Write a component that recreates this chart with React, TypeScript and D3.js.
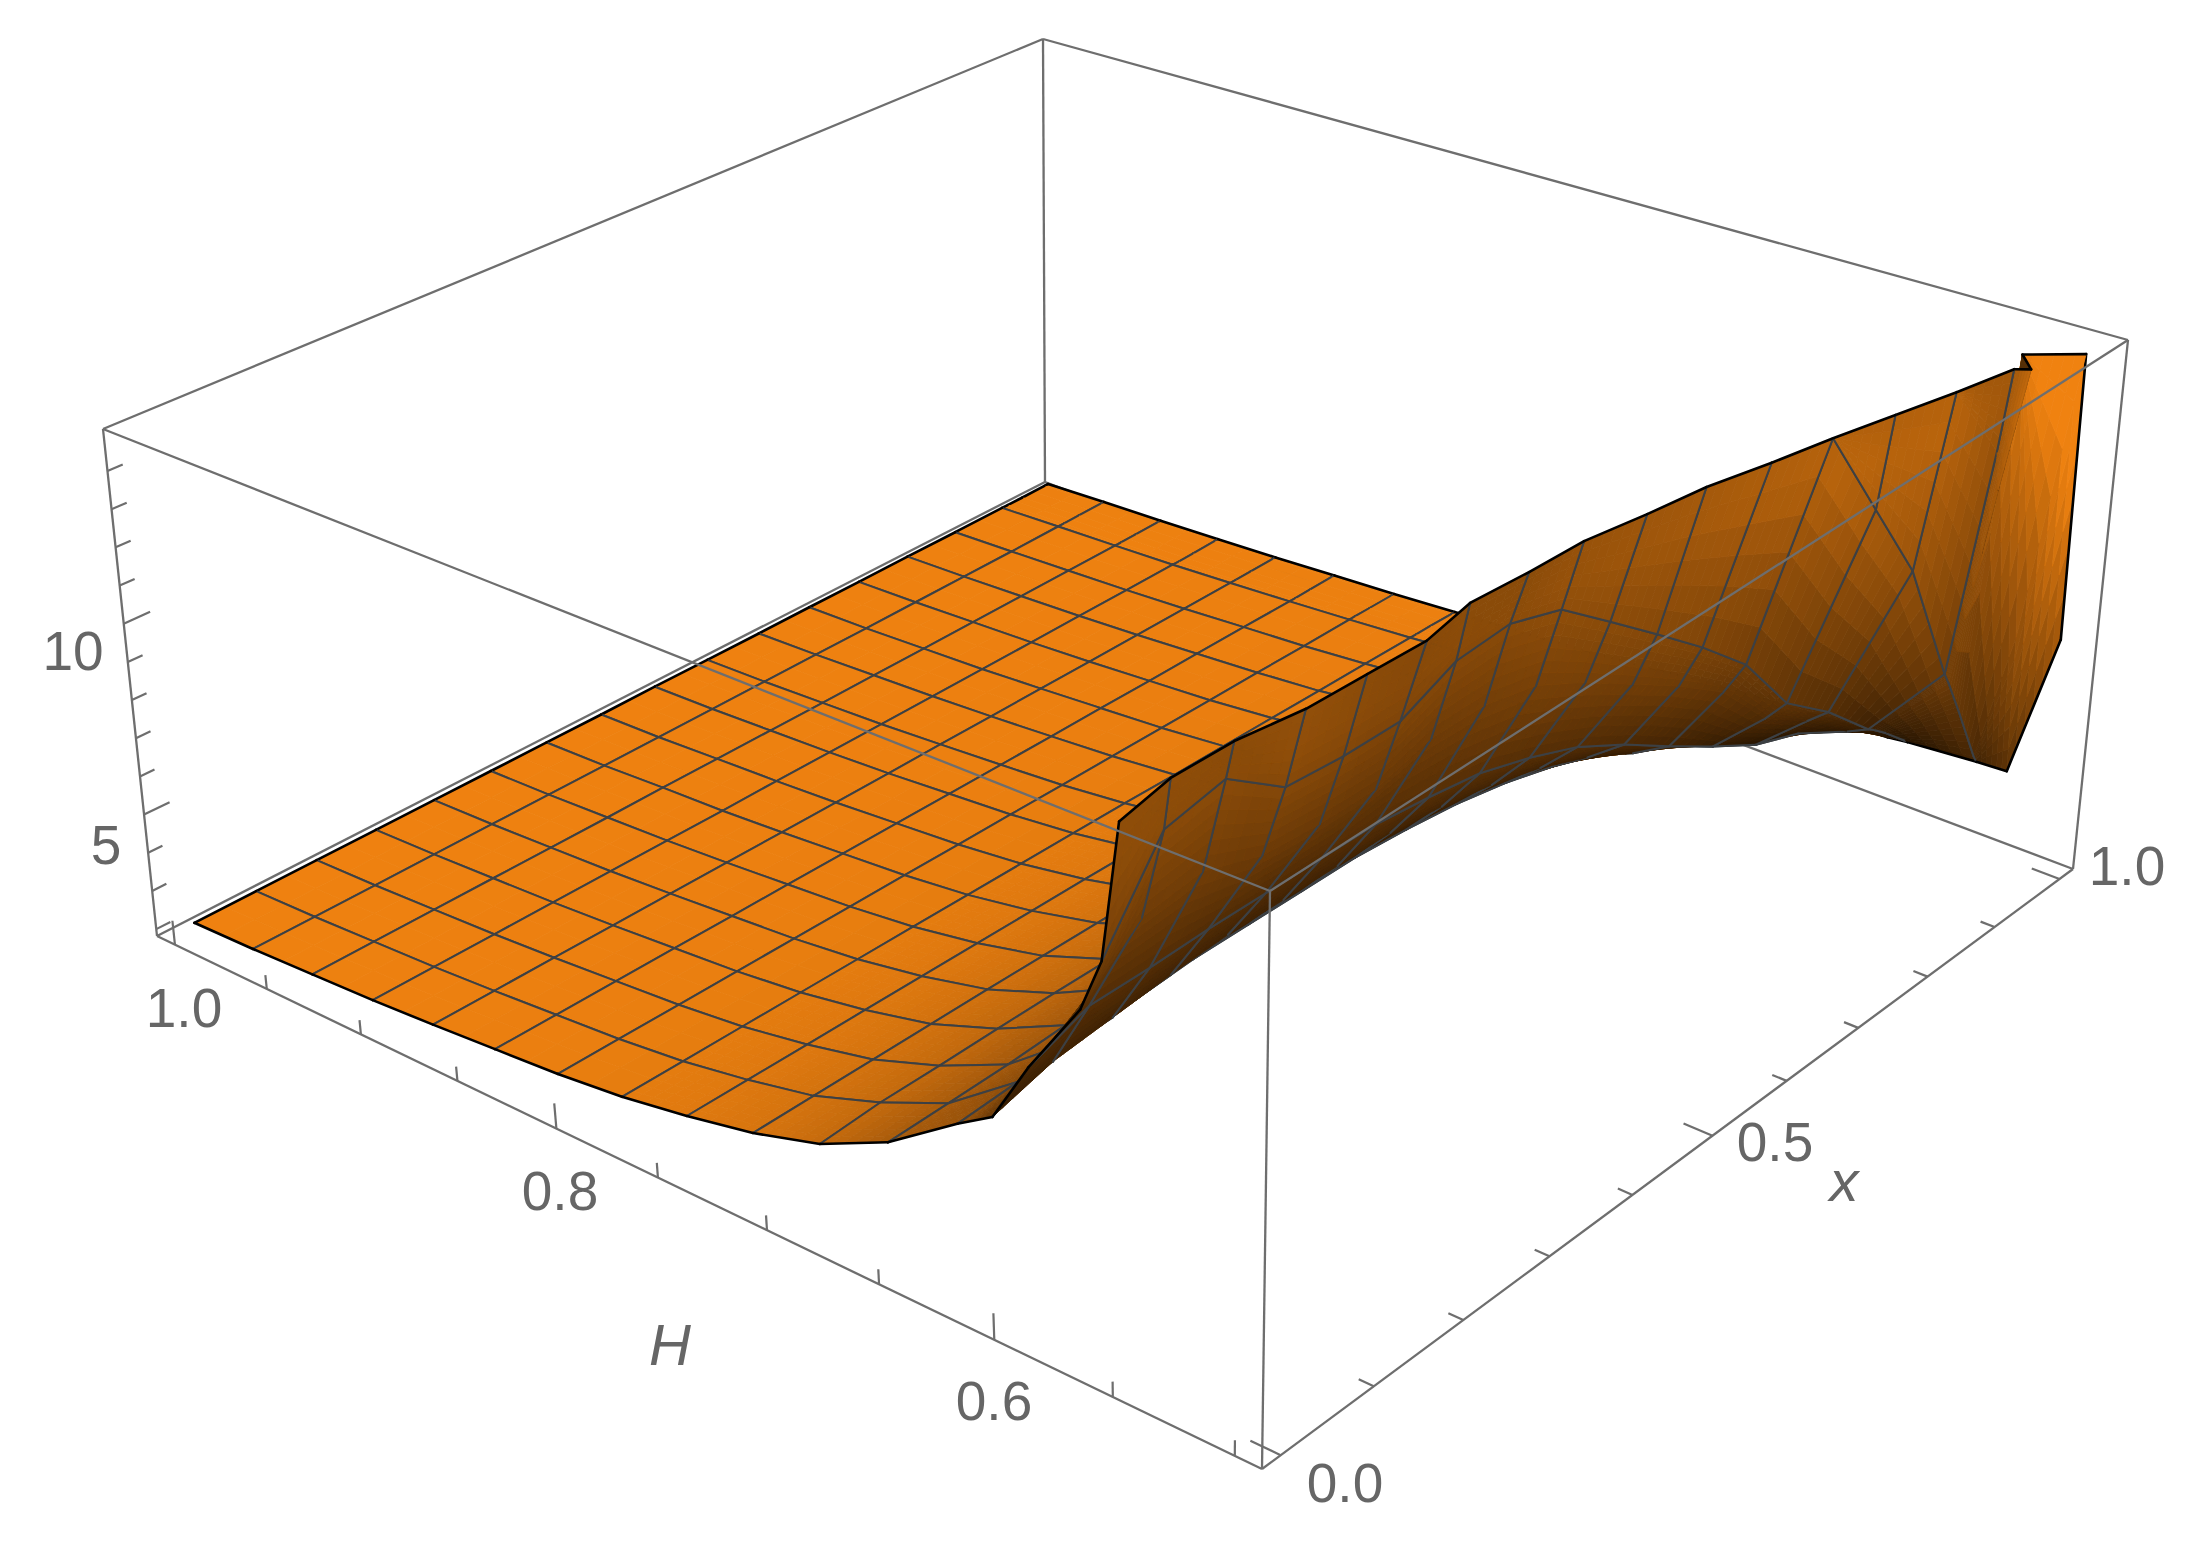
import React from "react";
import * as d3 from "d3";

// ---------- data ----------
const xColumns = [0, 0.0625, 0.125, 0.1875, 0.25, 0.3125, 0.375, 0.4375, 0.5, 0.5625, 0.625, 0.6875, 0.75, 0.8125, 0.875, 0.9375, 0.945, 0.965, 0.995, 1];
const meshX = [0.0625, 0.125, 0.1875, 0.25, 0.3125, 0.375, 0.4375, 0.5, 0.5625, 0.625, 0.6875, 0.75, 0.8125, 0.875, 0.9375];
const hRows = [1, 0.968, 0.936, 0.904, 0.8725, 0.8406, 0.8088, 0.7769, 0.745, 0.7131, 0.6813, 0.6494, 0.6175, 0.6018, 0.5856, 0.563, 0.5538, 0.5219, 0.508, 0.49];
const meshH = [0.968, 0.936, 0.904, 0.8725, 0.8406, 0.8088, 0.7769, 0.745, 0.7131, 0.6813, 0.6494, 0.6175, 0.5856, 0.5538, 0.5219];
// height where the surface is clipped, and the H at which that happens, per column
const clipH = [0.546, 0.551, 0.5505, 0.546, 0.545, 0.544, 0.549, 0.547, 0.546, 0.541, 0.537, 0.53, 0.524, 0.517, 0.51, 0.504, 0.499, 0.5084, 0.49, 0.49];
const clipZ = [14.84, 14.84, 14.84, 14.84, 14.84, 14.84, 14.84, 14.84, 14.84, 14.84, 14.84, 14.84, 14.84, 14.84, 14.84, 14.84, 14.84, 14.84, 14.84, 7.61];
const _ = null;
const z00 = [2.13, 2.13, 2.13, 2.13, 2.13, 2.13, 2.13, 2.13, 2.14, 2.14, 2.14, 2.15, 2.15, 2.16, 2.16, 2.17, 2.17, 2.17, 2.18, 2.18];
const z01 = [2.18, 2.18, 2.18, 2.18, 2.18, 2.18, 2.18, 2.18, 2.19, 2.19, 2.2, 2.2, 2.21, 2.22, 2.23, 2.25, 2.25, 2.26, 2.27, 2.27];
const z02 = [2.26, 2.26, 2.26, 2.26, 2.26, 2.26, 2.27, 2.27, 2.27, 2.27, 2.28, 2.28, 2.29, 2.3, 2.31, 2.32, 2.32, 2.33, 2.34, 2.34];
const z03 = [2.34, 2.34, 2.34, 2.34, 2.34, 2.34, 2.34, 2.35, 2.35, 2.35, 2.36, 2.36, 2.37, 2.38, 2.39, 2.4, 2.4, 2.41, 2.43, 2.43];
const z04 = [2.45, 2.45, 2.45, 2.45, 2.45, 2.45, 2.45, 2.45, 2.45, 2.46, 2.46, 2.47, 2.47, 2.48, 2.49, 2.5, 2.5, 2.51, 2.52, 2.52];
const z05 = [2.58, 2.58, 2.58, 2.58, 2.58, 2.58, 2.58, 2.58, 2.58, 2.58, 2.58, 2.59, 2.59, 2.6, 2.61, 2.61, 2.61, 2.62, 2.63, 2.63];
const z06 = [2.71, 2.71, 2.71, 2.71, 2.71, 2.71, 2.71, 2.71, 2.71, 2.71, 2.71, 2.71, 2.71, 2.72, 2.72, 2.73, 2.73, 2.73, 2.73, 2.73];
const z07 = [2.9, 2.9, 2.9, 2.9, 2.9, 2.9, 2.9, 2.9, 2.9, 2.9, 2.88, 2.88, 2.88, 2.87, 2.87, 2.86, 2.86, 2.86, 2.85, 2.85];
const z08 = [3.19, 3.19, 3.19, 3.19, 3.19, 3.19, 3.19, 3.19, 3.18, 3.17, 3.16, 3.14, 3.12, 3.09, 3.05, 3.01, 3, 2.99, 2.97, 2.96];
const z09 = [3.54, 3.55, 3.56, 3.57, 3.58, 3.58, 3.58, 3.58, 3.56, 3.54, 3.5, 3.44, 3.38, 3.32, 3.25, 3.16, 3.15, 3.14, 3.11, 3.09];
const z10 = [4.04, 4.14, 4.15, 4.18, 4.2, 4.2, 4.2, 4.2, 4.17, 4.13, 4.05, 3.92, 3.78, 3.63, 3.5, 3.35, 3.34, 3.31, 3.26, 3.25];
const z11 = [4.85, 4.88, 4.92, 5, 5.05, 5.05, 5.05, 5.05, 5, 5, 4.9, 4.72, 4.5, 4.25, 3.88, 3.67, 3.67, 3.62, 3.51, 3.46];
const z12 = [6.06, 6.15, 6.25, 6.35, 6.45, 6.45, 6.45, 6.45, 6.35, 6.2, 5.95, 5.6, 5.15, 4.7, 4.3, 3.88, 3.83, 3.78, 3.62, 3.56];
const z12b = [6.6, 7, 7.15, 7.3, 7.4, 7.4, 7.4, 7.4, 7.25, 7, 6.65, 6.15, 5.5, 4.95, 4.4, 3.98, 3.93, 3.85, 3.67, 3.6];
const z13 = [8.15, 8.7, 8.7, 8.75, 8.75, 8.75, 8.75, 8.6, 8.4, 8, 7.5, 6.8, 6, 5.25, 4.55, 4.1, 4.04, 3.94, 3.72, 3.67];
const z13b = [10.05, 11.3, 11.5, 11, 10.9, 10.9, 11.3, 11.3, 11, 10.3, 9.5, 8.7, 7.8, 6.4, 5.6, 4.6, 4.5, 4.25, 3.8, 3.72];
const z14 = [11.4, 13.57, 13.88, 12.82, 12.71, 12.71, 13.35, 13.46, 13.03, 11.97, 10.91, 9.84, 8.67, 6.97, 6.01, 4.84, 4.74, 4.42, 3.88, 3.78];
const z15 = [_, _, _, _, _, _, _, _, _, _, _, _, _, 12.4, 10.16, 6.86, 6.54, 5.59, 4.1, 3.91];
const z16 = [_, _, _, _, _, _, _, _, _, _, _, _, _, _, _, 12.71, 11.65, _, 7.39, 3.95];
const z17 = [_, _, _, _, _, _, _, _, _, _, _, _, _, _, _, _, _, _, _, _];
const zRows = [z00, z01, z02, z03, z04, z05, z06, z07, z08, z09, z10, z11, z12, z12b, z13, z13b, z14, z15, z16, z17];

const hTicks = [1, 0.95, 0.9, 0.85, 0.8, 0.75, 0.7, 0.65, 0.6, 0.55, 0.5];
const hMajor = [1, 0.8, 0.6];
const xTicks = [0, 0.1, 0.2, 0.3, 0.4, 0.5, 0.6, 0.7, 0.8, 0.9, 1];
const xMajor = [0, 0.5, 1];
const zTicks = [2, 3, 4, 5, 6, 7, 8, 9, 10, 11, 12, 13, 14];
const zMajor = [5, 10];

// ---------- scales: data to unit box ----------
const uScale = d3.scaleLinear().domain([-0.02, 1.02]).range([0, 1]);
const vScale = d3.scaleLinear().domain([1.0102, 0.4798]).range([0, 1]);
const wScale = d3.scaleLinear().domain([1.82, 15.1]).range([0, 1]);
// the printed axes run slightly unevenly along the box edges
const uAxis = d3.scaleLinear().domain([0, 0.5, 1]).range([0.0192, 0.5095, 0.98]);
const vAxis = d3.scaleLinear().domain([1, 0.75, 0.5]).range([0.0186, 0.4878, 0.9785]);

type Pt = [number, number];
// screen corners of the bounding box: [u0v0, u1v0, u1v1, u0v1]
const floorQuad: Pt[] = [[157, 936], [1045, 482], [2073, 869], [1262, 1469]];
const roofQuad: Pt[] = [[103, 429], [1043, 39], [2128, 340], [1270, 891]];

function squareToQuad(q: Pt[]) {
  const [A, B, C, D] = q;
  const dx1 = [B[0] - C[0], B[1] - C[1]];
  const dx2 = [D[0] - C[0], D[1] - C[1]];
  const s = [A[0] - B[0] + C[0] - D[0], A[1] - B[1] + C[1] - D[1]];
  const det = dx1[0] * dx2[1] - dx1[1] * dx2[0];
  const g = (s[0] * dx2[1] - s[1] * dx2[0]) / det;
  const h = (dx1[0] * s[1] - dx1[1] * s[0]) / det;
  const a = B[0] - A[0] + g * B[0];
  const b = D[0] - A[0] + h * D[0];
  const d = B[1] - A[1] + g * B[1];
  const e = D[1] - A[1] + h * D[1];
  return (u: number, v: number): Pt => {
    const k = g * u + h * v + 1;
    return [(a * u + b * v + A[0]) / k, (d * u + e * v + A[1]) / k];
  };
}
const floorMap = squareToQuad(floorQuad);
const roofMap = squareToQuad(roofQuad);
const project = (u: number, v: number, w: number): Pt => {
  const p = floorMap(u, v);
  const q = roofMap(u, v);
  return [p[0] + (q[0] - p[0]) * w, p[1] + (q[1] - p[1]) * w];
};
const path = d3.line<Pt>();

// ---------- surface nodes ----------
type V3 = [number, number, number];
const clamped = zRows.map((row) => row.map((z) => z === null));
const nodes: V3[][] = zRows.map((row, k) =>
  row.map((z, j) =>
    z === null
      ? [uScale(xColumns[j]), vScale(clipH[j]), wScale(clipZ[j])]
      : [uScale(xColumns[j]), vScale(hRows[k]), wScale(z)]
  )
);
const nk = hRows.length;
const nj = xColumns.length;
const Z_RATIO = 0.5;
function normalAt(k: number, j: number): V3 {
  const a = nodes[k][Math.max(0, j - 2)];
  const b = nodes[k][Math.min(nj - 1, j + 2)];
  const c = nodes[Math.max(0, k - 1)][j];
  const d = nodes[Math.min(nk - 1, k + 1)][j];
  const t1 = [b[0] - a[0], b[1] - a[1], (b[2] - a[2]) * Z_RATIO];
  const t2 = [d[0] - c[0], d[1] - c[1], (d[2] - c[2]) * Z_RATIO];
  const n: V3 = [t1[1] * t2[2] - t1[2] * t2[1], t1[2] * t2[0] - t1[0] * t2[2], t1[0] * t2[1] - t1[1] * t2[0]];
  const l = Math.hypot(n[0], n[1], n[2]) || 1;
  const r: V3 = [n[0] / l, n[1] / l, n[2] / l];
  return r[2] < 0 ? ([-r[0], -r[1], -r[2]] as V3) : r;
}
const normals = nodes.map((row, k) => row.map((_n, j) => normalAt(k, j)));

function lightTop(n: V3) {
  return Math.max(0.35, 1 - 1.1 * Math.pow(Math.max(0, 1 - n[2]), 0.7));
}
function lightUnder(n: V3, w: number) {
  const f: V3 = [-n[0], -n[1], -n[2]];
  const ws = Math.min(1, w / 0.9);
  const t = Math.min(0.8, Math.max(0, -f[0]));
  return Math.max(0.17, Math.min(1, 0.22 + 0.4 * ws + 0.7 * t * ws + 0.25 * f[2]));
}
const shade = (b: number) => `rgb(${Math.round(240 * b)},${Math.round(130 * b)},${Math.round(16 * b)})`;
const lerpV = (a: number[], b: number[], t: number) => a.map((x, i) => x + (b[i] - x) * t);

type Item = { d: string; fill?: string; stroke: string; sw: number };

function buildSurface(): Item[] {
  const items: Item[] = [];
  const MESH = "#3c4044";
  const EDGE = "#000000";
  const line = (a: V3, b: V3, stroke: string, sw: number) =>
    items.push({ d: path([project(a[0], a[1], a[2]), project(b[0], b[1], b[2])])!, stroke, sw });
  for (let k = 0; k < nk - 1; k++) {
    const SUB = k >= 7 ? 6 : 2;
    for (let j = nj - 2; j >= 0; j--) {
      const n00 = nodes[k][j], n01 = nodes[k][j + 1], n10 = nodes[k + 1][j], n11 = nodes[k + 1][j + 1];
      const c00 = normals[k][j], c01 = normals[k][j + 1], c10 = normals[k + 1][j], c11 = normals[k + 1][j + 1];
      for (let a = 0; a < SUB; a++) {
        for (let b = SUB - 1; b >= 0; b--) {
          const at = (s: number, t: number) => {
            const top = lerpV(n00, n01, s), bot = lerpV(n10, n11, s);
            const nTop = lerpV(c00, c01, s), nBot = lerpV(c10, c11, s);
            return { p: lerpV(top, bot, t), n: lerpV(nTop, nBot, t) };
          };
          const q = [at(b / SUB, a / SUB), at((b + 1) / SUB, a / SUB), at((b + 1) / SUB, (a + 1) / SUB), at(b / SUB, (a + 1) / SUB)];
          const pts = q.map((c) => project(c.p[0], c.p[1], c.p[2]));
          const area = d3.polygonArea(pts);
          if (Math.abs(area) < 0.01) continue;
          const nMean = lerpV(lerpV(q[0].n, q[1].n, 0.5), lerpV(q[2].n, q[3].n, 0.5), 0.5) as V3;
          const l = Math.hypot(nMean[0], nMean[1], nMean[2]) || 1;
          const unit: V3 = [nMean[0] / l, nMean[1] / l, nMean[2] / l];
          const wMean = (q[0].p[2] + q[1].p[2] + q[2].p[2] + q[3].p[2]) / 4;
          const col = shade(area < 0 ? lightTop(unit) : lightUnder(unit, wMean));
          items.push({ d: path(pts.concat([pts[0]]))! + "Z", fill: col, stroke: col, sw: 0.8 });
        }
      }
      // mesh lines of this cell
      const rowMesh = (r: number) => meshH.includes(hRows[r]);
      const colMesh = (c: number) => meshX.includes(xColumns[c]);
      if (rowMesh(k) && !(clamped[k][j] && clamped[k][j + 1])) line(n00, n01, MESH, 2);
      if (rowMesh(k + 1) && !(clamped[k + 1][j] && clamped[k + 1][j + 1])) line(n10, n11, MESH, 2);
      if (colMesh(j) && !(clamped[k][j] && clamped[k + 1][j])) line(n00, n10, MESH, 2);
      if (colMesh(j + 1) && !(clamped[k][j + 1] && clamped[k + 1][j + 1])) line(n01, n11, MESH, 2);
      // boundary
      if (j === 0 && !(clamped[k][j] && clamped[k + 1][j])) line(n00, n10, EDGE, 2.6);
      if (j === nj - 2 && !(clamped[k][j + 1] && clamped[k + 1][j + 1])) line(n01, n11, EDGE, 2.6);
      if (k === 0) line(n00, n01, EDGE, 2.6);
      if (clamped[k + 1][j] && clamped[k + 1][j + 1] && !(clamped[k][j] && clamped[k][j + 1])) line(n10, n11, EDGE, 2.6);
    }
  }
  return items;
}
const surface = buildSurface();

const BOX = "#6e6e6e";
const boxLine = (a: V3, b: V3, w = 2.3) => (
  <path d={path([project(a[0], a[1], a[2]), project(b[0], b[1], b[2])])!} stroke={BOX} strokeWidth={w} fill="none" />
);
const tickLine = (a: V3, b: V3, key: string) => (
  <path key={key} d={path([project(a[0], a[1], a[2]), project(b[0], b[1], b[2])])!} stroke={BOX} strokeWidth={2.2} fill="none" />
);

const labels: { t: string; x: number; y: number; size?: number; italic?: boolean }[] = [
  { t: "1.0", x: 184, y: 1008 },
  { t: "0.8", x: 560, y: 1191 },
  { t: "0.6", x: 994, y: 1401 },
  { t: "0.0", x: 1345, y: 1483 },
  { t: "0.5", x: 1775, y: 1142 },
  { t: "1.0", x: 2127, y: 866 },
  { t: "5", x: 106, y: 845 },
  { t: "10", x: 73, y: 651 },
  { t: "H", x: 670, y: 1344, italic: true, size: 58 },
  { t: "x", x: 1844, y: 1180, italic: true, size: 58 },
];

export default function App() {
  return (
    <svg width={2190} height={1550} style={{ position: "absolute", left: 0, top: 0, background: "#fff" }}>
      {/* rear box edges */}
      <g>
        {boxLine([0, 0, 0], [1, 0, 0])}
        {boxLine([1, 0, 0], [1, 1, 0])}
        {boxLine([1, 0, 0], [1, 0, 1])}
        {boxLine([0, 0, 1], [1, 0, 1])}
        {boxLine([1, 0, 1], [1, 1, 1])}
      </g>
      <g strokeLinecap="round" strokeLinejoin="round">
        {surface.map((s, i) => (
          <path key={i} d={s.d} fill={s.fill ?? "none"} stroke={s.stroke} strokeWidth={s.sw} />
        ))}
      </g>
      {/* front box edges */}
      <g>
        {boxLine([0, 0, 0], [0, 0, 1])}
        {boxLine([0, 0, 0], [0, 1, 0])}
        {boxLine([0, 1, 0], [1, 1, 0])}
        {boxLine([1, 1, 0], [1, 1, 1])}
        {boxLine([0, 1, 0], [0, 1, 1])}
        {boxLine([0, 0, 1], [0, 1, 1])}
        {boxLine([0, 1, 1], [1, 1, 1])}
      </g>
      <g>
        {hTicks.map((h) => tickLine([0, vAxis(h), 0], [0, vAxis(h), hMajor.includes(h) ? 0.047 : 0.027], `h${h}`))}
        {xTicks.map((x) => tickLine([uAxis(x), 1, 0], [uAxis(x), xMajor.includes(x) ? 0.976 : 0.988, 0], `x${x}`))}
        {zTicks.map((z) => tickLine([0, 0, wScale(z)], [zMajor.includes(z) ? 0.024 : 0.0135, 0, wScale(z)], `z${z}`))}
      </g>
      <g fontFamily="'Liberation Sans', Arial, sans-serif" fill="#666" textAnchor="middle" dominantBaseline="central">
        {labels.map((l, i) => (
          <text key={i} x={l.x} y={l.y} fontSize={l.size ?? 55} fontStyle={l.italic ? "italic" : "normal"}>
            {l.t}
          </text>
        ))}
      </g>
    </svg>
  );
}
